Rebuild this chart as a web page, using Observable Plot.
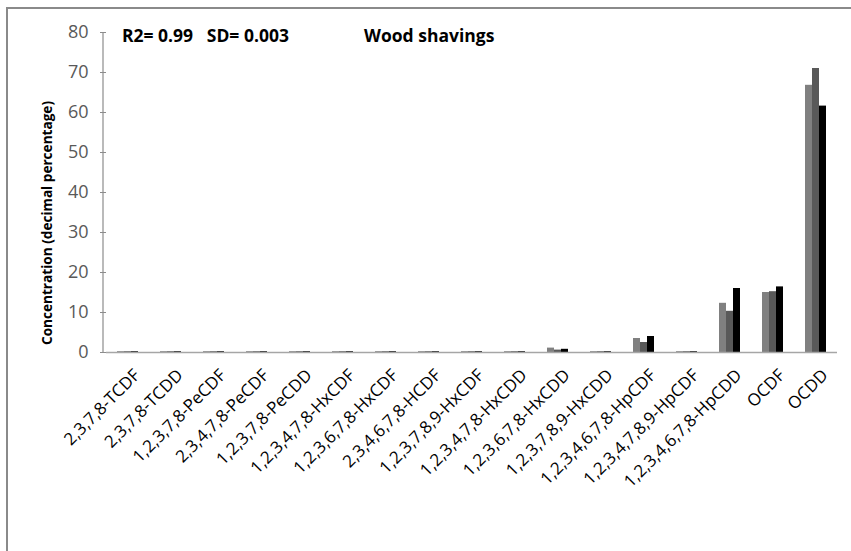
<!DOCTYPE html>
<html>
<head>
<meta charset="utf-8">
<script src="https://cdn.jsdelivr.net/npm/d3@7"></script>
<script src="https://cdn.jsdelivr.net/npm/@observablehq/plot@0.6"></script>
<style>
  html, body { margin: 0; padding: 0; background: #fff; }
  #wrap { position: relative; width: 851px; height: 551px; overflow: hidden; font-family: "Open Sans", Lato, sans-serif; }
  #border { position: absolute; left: 6px; top: 7px; width: 900px; height: 600px; border: 2px solid #8a8a8a; box-sizing: border-box; }
  #chart { position: absolute; left: 0; top: 0; }
  .note { position: absolute; font-weight: bold; font-size: 17.5px; line-height: 20px; color: #000; white-space: pre; }
  #ylabel { position: absolute; font-weight: bold; font-size: 13.6px; color: #000; white-space: nowrap;
            left: 46px; top: 223px; transform: translate(-50%, -50%) rotate(-90deg); }
</style>
</head>
<body>
<div id="wrap">
  <div id="border"></div>
  <div id="chart"></div>
  <div class="note" style="left:122px; top:25px;">R2= 0.99   SD= 0.003</div>
  <div class="note" style="left:364px; top:25px;">Wood shavings</div>
  <div id="ylabel">Concentration (decimal percentage)</div>
</div>
<script>
// Congeners on the x axis
const congeners = [
  "2,3,7,8-TCDF", "2,3,7,8-TCDD", "1,2,3,7,8-PeCDF", "2,3,4,7,8-PeCDF",
  "1,2,3,7,8-PeCDD", "1,2,3,4,7,8-HxCDF", "1,2,3,6,7,8-HxCDF", "2,3,4,6,7,8-HCDF",
  "1,2,3,7,8,9-HxCDF", "1,2,3,4,7,8-HxCDD", "1,2,3,6,7,8-HxCDD", "1,2,3,7,8,9-HxCDD",
  "1,2,3,4,6,7,8-HpCDF", "1,2,3,4,7,8,9-HpCDF", "1,2,3,4,6,7,8-HpCDD", "OCDF", "OCDD"
];

// Three profiles (decimal percentage)
const seriesNames = ["Profile 1", "Profile 2", "Profile 3"];
const profile1 = [0.2, 0.2, 0.2, 0.2, 0.2, 0.2, 0.2, 0.2, 0.2, 0.2, 1.1, 0.2, 3.5, 0.2, 12.3, 15.0, 66.8];
const profile2 = [0.2, 0.2, 0.2, 0.2, 0.2, 0.2, 0.2, 0.2, 0.2, 0.2, 0.6, 0.2, 2.5, 0.2, 10.3, 15.2, 71.0];
const profile3 = [0.2, 0.2, 0.2, 0.2, 0.2, 0.2, 0.2, 0.2, 0.2, 0.2, 0.8, 0.2, 4.0, 0.2, 16.0, 16.4, 61.6];
const seriesColors = ["#808080", "#595959", "#000000"];

const yTicks = [0, 10, 20, 30, 40, 50, 60, 70, 80];

const profiles = [profile1, profile2, profile3];
const rows = [];
congeners.forEach((c, i) => {
  profiles.forEach((p, j) => rows.push({congener: c, series: seriesNames[j], value: p[i]}));
});

const chart = Plot.plot({
  width: 851,
  height: 551,
  marginLeft: 103,
  marginRight: 12,
  marginTop: 32,
  marginBottom: 199,
  style: {fontFamily: "'Open Sans', Lato, sans-serif", background: "transparent"},
  fx: {domain: congeners, padding: 0, label: null},
  x: {domain: seriesNames, paddingInner: 0, paddingOuter: 1.5, axis: null},
  y: {domain: [0, 80], label: null},
  color: {domain: seriesNames, range: seriesColors},
  marks: [
    Plot.barY(rows, {fx: "congener", x: "series", y: "value", fill: "series"}),
    Plot.ruleY([0], {stroke: "#a6a6a6", strokeWidth: 1.5}),
    Plot.axisY({ticks: yTicks, tickSize: 6, tickPadding: 12, fontSize: 18, color: "#595959", stroke: "#8c8c8c", label: null}),
    Plot.axisFx({anchor: "bottom", tickRotate: -45, tickSize: 0, tickPadding: 20, dx: 9, fontSize: 17, color: "#000", label: null})
  ]
});
document.getElementById("chart").appendChild(chart);

// vertical axis line along the left edge of the plotting area
const svg = d3.select(chart);
const yScale = chart.scale("y");
svg.append("line")
  .attr("x1", 103).attr("x2", 103)
  .attr("y1", yScale.apply(80)).attr("y2", yScale.apply(0))
  .attr("stroke", "#8c8c8c").attr("stroke-width", 1.2);
</script>
</body>
</html>
